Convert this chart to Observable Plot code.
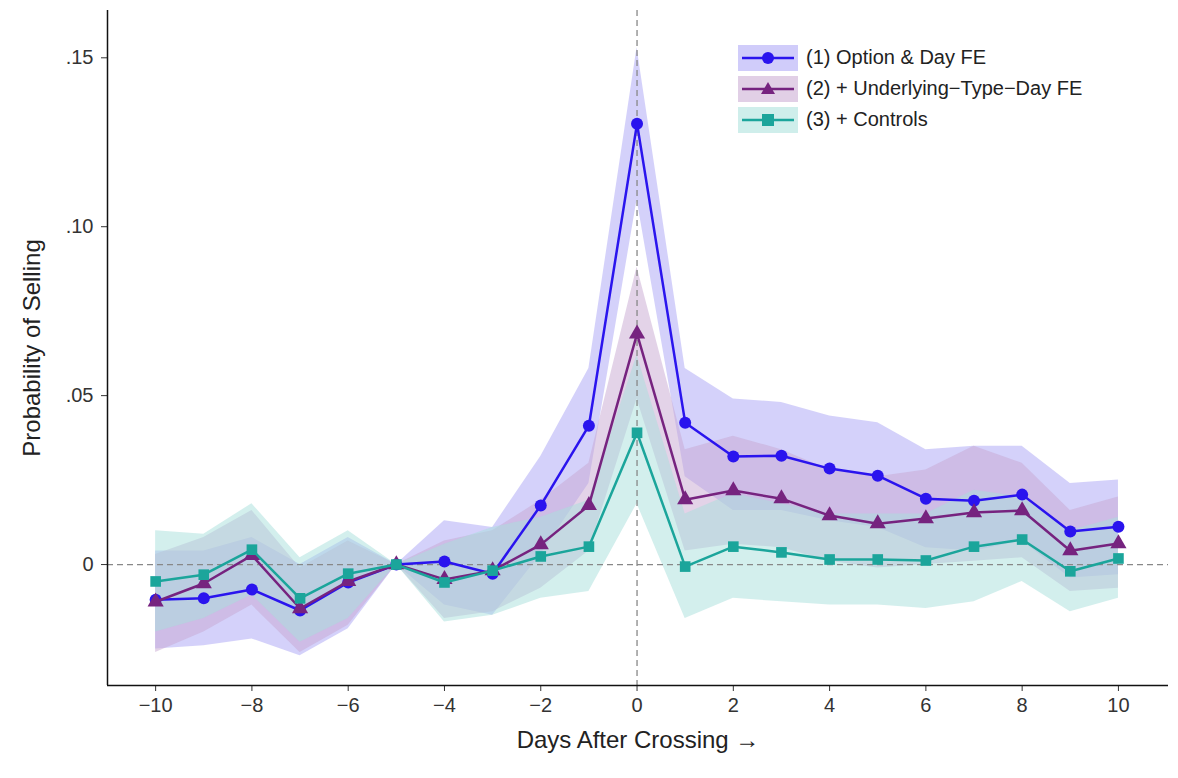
<!DOCTYPE html>
<html><head><meta charset="utf-8">
<script src="https://cdn.jsdelivr.net/npm/d3@7"></script>
<script src="https://cdn.jsdelivr.net/npm/@observablehq/plot@0.6"></script>
<style>
body{margin:0;background:#fff;font-family:Arial,"Liberation Sans",sans-serif}
#wrap{position:relative;width:1178px;height:778px}
#legend{position:absolute;left:738px;top:42px;font-size:20px;color:#222;line-height:31px}
#legend div{display:flex;align-items:center}
#legend svg{margin-right:8px}
</style></head><body>
<div id="wrap"><div id="chart"></div><div id="legend"></div></div>
<script>
const days = d3.range(-10, 11);
const series = ["(1) Option & Day FE", "(2) + Underlying\u2212Type\u2212Day FE", "(3) + Controls"];
const colors = ["#2a14ee", "#76237f", "#1ba59b"];
const bandColors = ["#a9a3f5", "#c8a8d1", "#a8e0db"];
const symbols = ["circle", "triangle", "square"];
const est1 = [-0.0104,-0.010,-0.0074,-0.0136,-0.0053,0,0.0009,-0.0027,0.0175,0.0411,0.1305,0.042,0.032,0.0322,0.0284,0.0263,0.0195,0.0189,0.0207,0.0098,0.0112];
const lo1 = [-0.025,-0.024,-0.022,-0.027,-0.019,0,-0.012,-0.015,0.003,0.024,0.108,0.026,0.016,0.016,0.013,0.011,0.005,0.004,0.007,-0.004,-0.003];
const hi1 = [0.004,0.004,0.008,0.000,0.008,0,0.013,0.011,0.032,0.058,0.153,0.058,0.049,0.048,0.044,0.042,0.034,0.035,0.035,0.024,0.025];
const est2 = [-0.011,-0.0056,0.0027,-0.013,-0.005,0,-0.0044,-0.0018,0.0059,0.0175,0.0683,0.0192,0.0219,0.0195,0.0145,0.0121,0.0136,0.0154,0.016,0.0041,0.0062];
const lo2 = [-0.026,-0.020,-0.012,-0.026,-0.018,0,-0.016,-0.014,-0.007,0.004,0.049,0.004,0.006,0.005,0.001,-0.001,0.000,0.001,0.002,-0.008,-0.007];
const hi2 = [0.003,0.008,0.016,-0.001,0.007,0,0.007,0.010,0.019,0.030,0.088,0.034,0.038,0.034,0.028,0.026,0.028,0.035,0.030,0.016,0.020];
const est3 = [-0.005,-0.003,0.0044,-0.010,-0.0027,0,-0.0053,-0.0018,0.0024,0.0053,0.039,-0.0006,0.0053,0.0036,0.0015,0.0015,0.0012,0.0053,0.0074,-0.002,0.0018];
const lo3 = [-0.020,-0.016,-0.009,-0.023,-0.016,0,-0.017,-0.015,-0.010,-0.008,0.018,-0.016,-0.010,-0.011,-0.012,-0.012,-0.013,-0.011,-0.005,-0.014,-0.010];
const hi3 = [0.010,0.009,0.018,0.002,0.010,0,0.006,0.011,0.014,0.019,0.062,0.015,0.021,0.018,0.015,0.015,0.015,0.022,0.020,0.010,0.014];
const yTicks = [0, 0.05, 0.10, 0.15];
const xTicks = [-10,-8,-6,-4,-2,0,2,4,6,8,10];

const E=[est1,est2,est3], L=[lo1,lo2,lo3], H=[hi1,hi2,hi3];
const rows = [];
series.forEach((s,i)=>days.forEach((d,j)=>rows.push({s,i,day:d,est:E[i][j],lo:L[i][j],hi:H[i][j]})));

const marks = [];
[0,1,2].forEach(i=>{
  const r = rows.filter(d=>d.i===i);
  marks.push(Plot.areaY(r,{x:"day",y1:"lo",y2:"hi",fill:bandColors[i],fillOpacity:0.5}));
});
marks.push(Plot.ruleY([0],{stroke:"#888",strokeDasharray:"6,4",strokeWidth:1.3}));
marks.push(Plot.ruleX([0],{stroke:"#888",strokeDasharray:"6,4",strokeWidth:1.3}));
[0,1,2].forEach(i=>{
  const r = rows.filter(d=>d.i===i);
  marks.push(Plot.line(r,{x:"day",y:"est",stroke:colors[i],strokeWidth:2.5}));
  marks.push(Plot.dot(r,{x:"day",y:"est",fill:colors[i],symbol:symbols[i],r:6}));
});
marks.push(Plot.axisX({ticks:xTicks,tickFormat:d=>d<0?"\u2212"+(-d):String(d),fontSize:20,tickSize:6,tickPadding:6,label:"Days After Crossing",labelAnchor:"center",labelOffset:62,color:"#333"}));
marks.push(Plot.axisY({ticks:yTicks,tickFormat:d=>d===0?"0":d.toFixed(2).replace("0.","."),fontSize:20,tickSize:6,tickPadding:8,label:"Probability of Selling",labelAnchor:"center",labelArrow:false,labelOffset:85,color:"#333"}));
marks.push(Plot.ruleX([-11],{stroke:"#111",strokeWidth:1.5}));
marks.push(Plot.ruleY([-0.0358],{stroke:"#111",strokeWidth:1.5}));

const chart = Plot.plot({
  width:1178, height:778,
  marginLeft:107, marginRight:10, marginTop:10, marginBottom:93,
  x:{domain:[-11,11.04]},
  y:{domain:[-0.0358,0.164]},
  style:{fontFamily:"Arial, 'Liberation Sans', sans-serif",fontSize:"22px",color:"#333"},
  marks
});
document.getElementById("chart").appendChild(chart);
chart.querySelectorAll("g[aria-label='x-axis label'] text, g[aria-label='y-axis label'] text").forEach(t=>{t.style.fontSize="24px";t.style.fill="#222";});

const leg = document.getElementById("legend");
const shapes = [
  c=>`<circle cx="30" cy="15" r="6" fill="${c}"/>`,
  c=>`<path d="M30,8 L37,20 L23,20 Z" fill="${c}"/>`,
  c=>`<rect x="24" y="9" width="12" height="12" fill="${c}"/>`
];
series.forEach((s,i)=>{
  const d=document.createElement("div");
  d.innerHTML=`<svg width="60" height="30"><rect x="0" y="2" width="60" height="26" fill="${bandColors[i]}" fill-opacity="0.55"/><line x1="4" x2="56" y1="15" y2="15" stroke="${colors[i]}" stroke-width="2.5"/>${shapes[i](colors[i])}</svg><span>${s}</span>`;
  leg.appendChild(d);
});
</script></body></html>
